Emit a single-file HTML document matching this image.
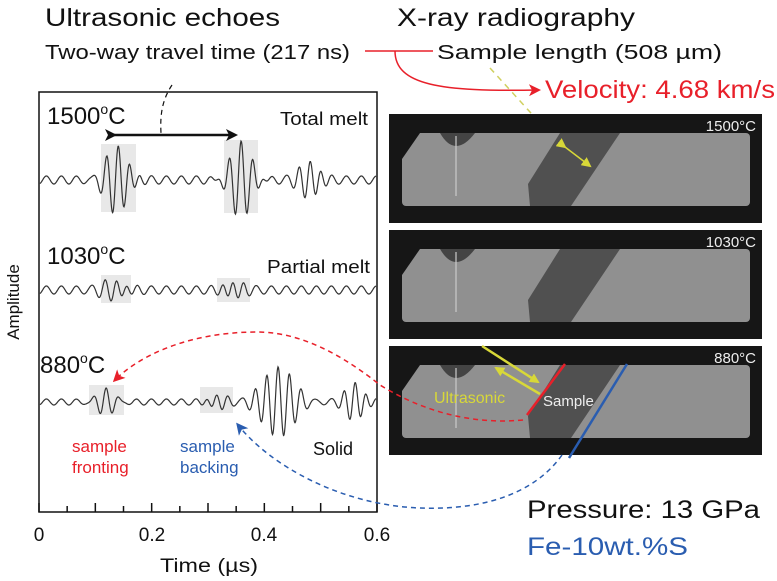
<!DOCTYPE html>
<html><head><meta charset="utf-8"><style>
html,body{margin:0;padding:0;background:#fff;}
svg{display:block;font-family:"Liberation Sans",sans-serif;}
</style></head><body>
<svg id="s" width="777" height="581" viewBox="0 0 777 581" xmlns="http://www.w3.org/2000/svg">
<defs>
<marker id="ab" markerWidth="12" markerHeight="12" refX="9" refY="6" orient="auto" markerUnits="userSpaceOnUse"><path d="M0,0 L12,6 L0,12 L3,6z" fill="#111"/></marker>
<marker id="ar" markerWidth="12" markerHeight="12" refX="9" refY="6" orient="auto" markerUnits="userSpaceOnUse"><path d="M0,0 L12,6 L0,12 L3,6z" fill="#e8202a"/></marker>
<marker id="ab2" markerWidth="12" markerHeight="12" refX="9" refY="6" orient="auto" markerUnits="userSpaceOnUse"><path d="M0,0 L12,6 L0,12 L3,6z" fill="#2a5db0"/></marker>
<marker id="ay" markerWidth="10" markerHeight="10" refX="8" refY="5" orient="auto" markerUnits="userSpaceOnUse"><path d="M0,0 L10,5 L0,10z" fill="#d8d838"/></marker>
</defs>
<!-- titles -->
<text x="45" y="26" font-size="25" fill="#111" textLength="235" lengthAdjust="spacingAndGlyphs">Ultrasonic echoes</text>
<text x="397" y="26" font-size="25" fill="#111" textLength="238" lengthAdjust="spacingAndGlyphs">X-ray radiography</text>
<text x="45" y="59" font-size="20" fill="#111" textLength="305" lengthAdjust="spacingAndGlyphs">Two-way travel time (217 ns)</text>
<text x="437" y="59" font-size="20" fill="#111" textLength="285" lengthAdjust="spacingAndGlyphs">Sample length (508 µm)</text>
<line x1="365" y1="51" x2="433" y2="51" stroke="#e8202a" stroke-width="1.5"/>
<path d="M395,51 C395,85 440,92 538,90" fill="none" stroke="#e8202a" stroke-width="1.5" marker-end="url(#ar)"/>
<text x="545" y="98" font-size="25" fill="#e8202a" textLength="230" lengthAdjust="spacingAndGlyphs">Velocity: 4.68 km/s</text>
<line x1="490" y1="68" x2="560" y2="145" stroke="#d0d060" stroke-width="1.5" stroke-dasharray="6,5"/>

<!-- plot box -->
<rect x="39" y="92" width="338" height="420" fill="none" stroke="#111" stroke-width="1.5"/>
<g id="ticks" stroke="#111" stroke-width="1.5"></g>
<g font-size="19" fill="#111" text-anchor="middle">
<text x="39" y="541">0</text><text x="152" y="541">0.2</text><text x="264" y="541">0.4</text><text x="377" y="541">0.6</text>
<text x="209" y="572" textLength="98" lengthAdjust="spacingAndGlyphs">Time (µs)</text>
</g>
<text transform="translate(19,302) rotate(-90)" font-size="17" text-anchor="middle" fill="#111">Amplitude</text>

<!-- gray boxes -->
<g fill="#e8e8e8">
<rect x="101" y="144" width="35" height="68"/><rect x="224" y="140" width="34" height="73"/>
<rect x="101" y="275" width="30" height="28"/><rect x="217" y="278" width="33" height="24"/>
<rect x="89" y="385" width="35" height="30"/><rect x="200" y="387" width="33" height="26"/>
</g>
<path id="w1" fill="none" stroke="#333" stroke-width="1.2"/>
<path id="w2" fill="none" stroke="#333" stroke-width="1.2"/>
<path id="w3" fill="none" stroke="#333" stroke-width="1.2"/>

<text x="47" y="124" font-size="24" fill="#111">1500<tspan font-size="14" dy="-10">o</tspan><tspan dy="10">C</tspan></text>
<text x="280" y="125" font-size="18" fill="#111" textLength="88" lengthAdjust="spacingAndGlyphs">Total melt</text>
<text x="47" y="264" font-size="24" fill="#111">1030<tspan font-size="14" dy="-10">o</tspan><tspan dy="10">C</tspan></text>
<text x="267" y="273" font-size="18" fill="#111" textLength="103" lengthAdjust="spacingAndGlyphs">Partial melt</text>
<text x="40" y="373" font-size="24" fill="#111">880<tspan font-size="14" dy="-10">o</tspan><tspan dy="10">C</tspan></text>
<line x1="114" y1="135" x2="235" y2="135" stroke="#111" stroke-width="2.5" marker-start="url(#ab)" marker-end="url(#ab)"/>
<path d="M172,85 C162,100 160,115 161,133" fill="none" stroke="#111" stroke-width="1.2" stroke-dasharray="5,4"/>
<text x="72" y="452" font-size="17" fill="#e8202a">sample</text>
<text x="72" y="473" font-size="17" fill="#e8202a">fronting</text>
<text x="180" y="452" font-size="17" fill="#2a5db0">sample</text>
<text x="180" y="473" font-size="17" fill="#2a5db0">backing</text>
<text x="313" y="455" font-size="18" fill="#111">Solid</text>

<!-- radiography panels -->
<g id="panels"></g>

<!-- overlays panel 3 -->
<line x1="527" y1="415" x2="565" y2="364" stroke="#e8202a" stroke-width="2.5"/>
<line x1="569" y1="458" x2="627" y2="364" stroke="#2a5db0" stroke-width="2.5"/>
<line x1="482" y1="346" x2="538" y2="382" stroke="#d8d838" stroke-width="2.5" marker-end="url(#ay)"/>
<line x1="540" y1="394" x2="496" y2="368" stroke="#d8d838" stroke-width="2.5" marker-end="url(#ay)"/>
<text x="434" y="403" font-size="16" fill="#d8d838">Ultrasonic</text>
<text x="543" y="406" font-size="15" fill="#eee">Sample</text>
<line x1="565" y1="147" x2="590" y2="166" stroke="#d8d838" stroke-width="1.5" marker-start="url(#ay)" marker-end="url(#ay)"/>

<path d="M523,420 C470,425 420,410 380,385 C330,345 290,332 257,332 C190,332 140,355 115,380" fill="none" stroke="#e8202a" stroke-width="1.5" stroke-dasharray="5,4" marker-end="url(#ar)"/>
<path d="M562,455 C530,500 470,510 420,508 C340,505 270,465 238,425" fill="none" stroke="#2a5db0" stroke-width="1.5" stroke-dasharray="5,4" marker-end="url(#ab2)"/>

<text x="527" y="518" font-size="25" fill="#111" textLength="233" lengthAdjust="spacingAndGlyphs">Pressure: 13 GPa</text>
<text x="527" y="555" font-size="25" fill="#2a5db0" textLength="161" lengthAdjust="spacingAndGlyphs">Fe-10wt.%S</text>
</svg>
<script>
var t=document.getElementById('ticks'),h='';
for(var i=0;i<=12;i++){var x=39+i*338/12;var L=(i%2==0)?9:6;h+='<line x1="'+x+'" y1="512" x2="'+x+'" y2="'+(512-L)+'"/>';}
t.innerHTML=h;
function wave(id,y0,rip,bursts){var d='';for(var x=40;x<=376;x+=0.5){var y=rip*Math.sin(x/15*2*Math.PI+1);
for(var b of bursts){var e=Math.exp(-Math.pow((x-b[0])/b[2],2));y+=b[1]*e*Math.sin((x-b[0])/11.5*2*Math.PI+1.5);}
d+=(d?'L':'M')+x+','+(y0-y).toFixed(1);}document.getElementById(id).setAttribute('d',d);}
wave('w1',180,4,[[118,33,16],[241,35,16],[310,22,13]]);
wave('w2',290,4,[[116,11,16],[233,11,13]]);
wave('w3',402,3,[[106,11,13],[217,9,12],[278,38,20],[355,22,12]]);
var p=document.getElementById('panels'),s='';
var ys=[114,230,346],labs=['1500°C','1030°C','880°C'];
for(var k=0;k<3;k++){var y=ys[k];
s+='<rect x="389" y="'+y+'" width="373" height="109" fill="#161616"/>';
s+='<rect x="402" y="'+(y+19)+'" width="348" height="73" fill="#909090" rx="4"/>';
s+='<path d="M402,'+(y+45)+' L420,'+(y+19)+' L402,'+(y+19)+'z" fill="#161616"/>';
s+='<path d="M440,'+(y+19)+' Q455,'+(y+45)+' 475,'+(y+19)+'z" fill="#444"/>';
s+='<polygon points="560,'+(y+19)+' 620,'+(y+19)+' 571,'+(y+92)+' 530,'+(y+92)+' 528,'+(y+70)+'" fill="#505050"/>';
s+='<rect x="455" y="'+(y+22)+'" width="2" height="60" fill="#ccc" opacity="0.6"/>';
s+='<text x="756" y="'+(y+17)+'" font-size="15" fill="#eee" text-anchor="end">'+labs[k]+'</text>';}
p.innerHTML=s;
</script>
</body></html>
